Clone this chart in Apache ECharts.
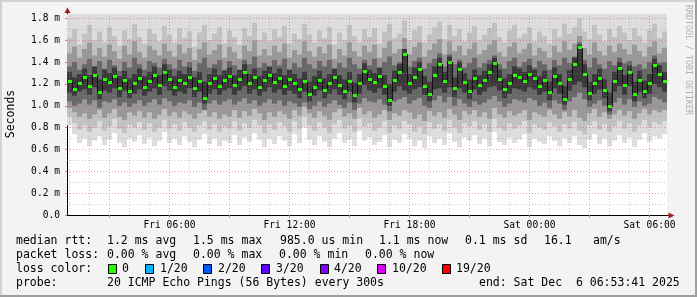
<!DOCTYPE html>
<html><head><meta charset="utf-8">
<script src="https://cdn.jsdelivr.net/npm/echarts@6/dist/echarts.min.js"></script>
<style>html,body{margin:0;padding:0;background:#f3f3f3}#c{width:697px;height:297px}</style>
</head><body><div id="c"></div>
<script>
// ---- time axis (hours since Fri 00:00) ----
const startHour = 0.875, endHour = 30.875, stepHours = 0.25;
const xTickHours = [6, 12, 18, 24, 30];
const xTickLabels = ['Fri 06:00', 'Fri 12:00', 'Fri 18:00', 'Sat 00:00', 'Sat 06:00'];

// ---- median RTT (ms), one value per 15 min ----
const median = [
1.22,1.15,1.20,1.26,1.18,1.28,1.12,1.24,1.21,1.27,1.16,1.23,1.13,1.20,1.25,1.17,1.22,1.28,1.19,1.30,
1.24,1.17,1.23,1.20,1.26,1.16,1.22,1.07,1.20,1.25,1.18,1.23,1.27,1.19,1.24,1.30,1.20,1.26,1.17,1.23,
1.28,1.21,1.25,1.18,1.24,1.20,1.15,1.22,1.10,1.17,1.23,1.14,1.20,1.26,1.19,1.13,1.22,1.09,1.20,1.31,
1.24,1.21,1.27,1.18,1.05,1.23,1.30,1.47,1.20,1.26,1.33,1.18,1.10,1.28,1.38,1.22,1.40,1.16,1.33,1.21,
1.13,1.25,1.19,1.23,1.30,1.39,1.24,1.15,1.20,1.28,1.26,1.22,1.29,1.25,1.18,1.23,1.12,1.27,1.20,1.06,
1.24,1.38,1.53,1.29,1.11,1.20,1.25,1.14,0.99,1.22,1.34,1.19,1.30,1.10,1.23,1.13,1.20,1.37,1.29,1.22];

// ---- smoke: ping spread envelopes (ms) ----
const minRtt = [
0.82,0.74,0.66,0.70,0.63,0.68,0.72,0.64,0.69,0.75,0.66,0.62,0.70,0.67,0.73,0.65,0.71,0.63,0.68,0.76,
0.66,0.70,0.64,0.72,0.67,0.62,0.69,0.74,0.65,0.70,0.63,0.68,0.66,0.73,0.64,0.71,0.67,0.75,0.69,0.62,
0.70,0.65,0.72,0.68,0.63,0.74,0.66,0.80,0.69,0.64,0.72,0.67,0.62,0.70,0.75,0.66,0.69,0.63,0.77,0.68,
0.71,0.64,0.67,0.73,0.62,0.69,0.66,0.74,0.70,0.63,0.68,0.61,0.72,0.66,0.70,0.64,0.75,0.67,0.62,0.71,
0.68,0.73,0.65,0.70,0.63,0.76,0.67,0.64,0.71,0.66,0.69,0.74,0.62,0.70,0.67,0.65,0.72,0.68,0.63,0.70,
0.66,0.72,0.64,0.61,0.69,0.74,0.65,0.70,0.63,0.68,0.73,0.66,0.71,0.62,0.69,0.75,0.67,0.72,0.70,0.74];
const maxRtt = [
1.95,2.10,1.90,2.05,2.20,1.92,1.98,2.15,1.88,2.02,1.94,2.08,1.91,2.25,1.97,1.89,2.04,2.12,1.93,2.00,
2.06,1.93,2.18,1.96,1.89,2.11,2.01,1.94,2.23,1.90,2.07,1.98,1.92,2.14,2.03,1.88,2.09,1.95,2.19,1.99,
1.91,2.05,1.97,2.16,1.90,2.08,1.94,2.21,2.00,1.93,2.12,1.96,1.89,2.04,2.17,1.92,2.06,1.98,1.90,2.13,
2.02,1.95,2.20,1.91,2.07,1.99,1.93,2.30,1.96,2.10,1.94,2.03,1.90,2.15,2.24,1.97,2.11,1.92,2.05,1.98,
2.09,1.93,2.01,2.16,1.95,2.22,1.99,1.91,2.06,2.13,1.94,2.02,1.97,2.18,1.90,2.08,1.96,2.04,1.92,2.14,
2.00,2.12,2.35,2.07,1.93,2.19,1.98,1.91,2.05,1.95,2.16,2.01,1.94,2.10,1.97,1.90,2.08,2.20,1.96,2.03];
const p10 = [
0.90,0.84,0.78,0.82,0.76,0.80,0.86,0.77,0.81,0.88,0.79,0.75,0.83,0.80,0.85,0.78,0.84,0.76,0.80,0.87,
0.79,0.83,0.77,0.85,0.80,0.76,0.82,0.86,0.78,0.83,0.76,0.81,0.79,0.86,0.77,0.84,0.80,0.87,0.82,0.75,
0.83,0.78,0.85,0.81,0.76,0.86,0.79,0.90,0.82,0.77,0.85,0.80,0.75,0.83,0.87,0.79,0.82,0.76,0.88,0.81,
0.84,0.77,0.80,0.86,0.75,0.82,0.79,0.86,0.83,0.76,0.81,0.74,0.85,0.79,0.83,0.77,0.87,0.80,0.75,0.84,
0.81,0.86,0.78,0.83,0.76,0.88,0.80,0.77,0.84,0.79,0.82,0.86,0.75,0.83,0.80,0.78,0.85,0.81,0.76,0.83,
0.79,0.85,0.77,0.74,0.82,0.86,0.78,0.83,0.76,0.81,0.86,0.79,0.84,0.76,0.82,0.87,0.80,0.85,0.83,0.86];
const p90 = [
1.62,1.70,1.56,1.66,1.74,1.60,1.68,1.58,1.72,1.64,1.55,1.69,1.61,1.75,1.63,1.57,1.70,1.66,1.59,1.73,
1.65,1.58,1.71,1.62,1.68,1.54,1.67,1.74,1.60,1.66,1.72,1.57,1.69,1.63,1.56,1.71,1.64,1.76,1.60,1.67,
1.59,1.70,1.63,1.73,1.57,1.66,1.61,1.75,1.65,1.58,1.69,1.62,1.72,1.56,1.67,1.60,1.74,1.64,1.58,1.70,
1.63,1.71,1.57,1.68,1.75,1.62,1.66,1.78,1.60,1.69,1.73,1.58,1.65,1.72,1.77,1.61,1.74,1.64,1.70,1.59,
1.67,1.73,1.60,1.65,1.71,1.76,1.63,1.58,1.69,1.74,1.62,1.66,1.72,1.59,1.68,1.64,1.57,1.70,1.63,1.75,
1.66,1.72,1.80,1.68,1.61,1.74,1.65,1.59,1.70,1.63,1.73,1.67,1.60,1.71,1.64,1.58,1.69,1.75,1.62,1.68];
const p25 = [
0.98,0.94,0.90,0.93,0.88,0.92,0.96,0.89,0.93,0.97,0.90,0.87,0.94,0.91,0.95,0.89,0.94,0.88,0.92,0.97,
0.91,0.94,0.89,0.95,0.92,0.88,0.93,0.96,0.90,0.94,0.88,0.92,0.90,0.96,0.89,0.95,0.91,0.97,0.93,0.87,
0.94,0.90,0.95,0.92,0.88,0.96,0.91,0.99,0.93,0.89,0.95,0.91,0.87,0.94,0.97,0.90,0.93,0.88,0.98,0.92,
0.95,0.89,0.92,0.96,0.87,0.93,0.91,0.96,0.94,0.88,0.92,0.86,0.95,0.91,0.94,0.89,0.97,0.92,0.87,0.95,
0.92,0.96,0.90,0.94,0.88,0.98,0.92,0.89,0.95,0.91,0.93,0.96,0.87,0.94,0.92,0.90,0.96,0.92,0.88,0.94,
0.90,0.96,0.89,0.86,0.93,0.97,0.90,0.94,0.88,0.92,0.96,0.91,0.95,0.88,0.93,0.97,0.92,0.96,0.94,0.96];
const p75 = [
1.48,1.54,1.44,1.52,1.58,1.46,1.53,1.45,1.56,1.50,1.43,1.55,1.47,1.59,1.49,1.44,1.55,1.51,1.46,1.57,
1.50,1.45,1.56,1.48,1.53,1.42,1.52,1.58,1.47,1.51,1.56,1.44,1.54,1.49,1.43,1.55,1.50,1.60,1.46,1.52,
1.46,1.55,1.49,1.57,1.44,1.51,1.47,1.59,1.50,1.45,1.54,1.48,1.56,1.43,1.52,1.46,1.58,1.50,1.45,1.55,
1.49,1.56,1.44,1.53,1.59,1.48,1.52,1.62,1.47,1.54,1.58,1.45,1.51,1.57,1.61,1.47,1.59,1.50,1.55,1.46,
1.52,1.58,1.47,1.51,1.56,1.60,1.49,1.45,1.54,1.58,1.48,1.52,1.57,1.46,1.53,1.50,1.44,1.55,1.49,1.59,
1.51,1.57,1.64,1.53,1.47,1.58,1.50,1.46,1.55,1.49,1.57,1.52,1.47,1.56,1.50,1.45,1.54,1.59,1.48,1.53];
const p35 = [
1.04,1.00,1.02,1.06,1.01,1.05,0.98,1.04,1.03,1.06,1.00,1.03,0.99,1.02,1.05,1.00,1.03,1.06,1.01,1.07,
1.04,1.00,1.03,1.02,1.05,0.99,1.03,0.96,1.02,1.05,1.01,1.04,1.06,1.01,1.04,1.07,1.02,1.05,1.00,1.03,
1.06,1.02,1.05,1.00,1.04,1.02,0.99,1.03,0.97,1.00,1.04,0.99,1.02,1.05,1.01,0.98,1.03,0.96,1.02,1.07,
1.04,1.03,1.06,1.01,0.95,1.04,1.06,1.08,1.02,1.05,1.07,1.00,0.98,1.05,1.09,1.03,1.08,1.00,1.06,1.02,
0.99,1.04,1.01,1.03,1.06,1.09,1.04,0.99,1.02,1.06,1.05,1.03,1.07,1.05,1.00,1.03,0.98,1.05,1.02,0.96,
1.04,1.08,1.12,1.06,0.99,1.02,1.05,1.00,0.92,1.03,1.07,1.01,1.06,0.99,1.04,1.00,1.02,1.08,1.06,1.03];
const p65 = [
1.36,1.40,1.33,1.38,1.43,1.35,1.41,1.34,1.42,1.37,1.32,1.40,1.35,1.44,1.38,1.33,1.41,1.39,1.35,1.43,
1.38,1.34,1.42,1.36,1.40,1.32,1.39,1.44,1.35,1.38,1.42,1.33,1.41,1.37,1.32,1.42,1.38,1.45,1.35,1.39,
1.35,1.42,1.37,1.43,1.33,1.39,1.35,1.44,1.38,1.34,1.41,1.36,1.42,1.32,1.39,1.35,1.44,1.38,1.34,1.42,
1.37,1.43,1.34,1.40,1.45,1.37,1.40,1.52,1.36,1.41,1.44,1.34,1.39,1.43,1.48,1.36,1.47,1.38,1.42,1.35,
1.39,1.44,1.35,1.39,1.42,1.46,1.38,1.34,1.41,1.44,1.36,1.40,1.43,1.35,1.41,1.38,1.33,1.42,1.37,1.44,
1.39,1.45,1.58,1.42,1.35,1.44,1.38,1.34,1.41,1.37,1.44,1.39,1.41,1.36,1.38,1.34,1.40,1.46,1.39,1.40];
const p45 = [
1.12,1.09,1.13,1.15,1.10,1.17,1.06,1.14,1.12,1.16,1.08,1.14,1.07,1.11,1.15,1.09,1.13,1.16,1.10,1.18,
1.14,1.09,1.13,1.11,1.16,1.08,1.13,1.02,1.11,1.15,1.10,1.14,1.16,1.10,1.14,1.18,1.11,1.15,1.09,1.13,
1.17,1.12,1.15,1.10,1.14,1.11,1.07,1.13,1.04,1.09,1.14,1.07,1.11,1.15,1.10,1.06,1.13,1.03,1.11,1.19,
1.14,1.12,1.16,1.10,1.00,1.13,1.18,1.14,1.11,1.15,1.17,1.10,1.04,1.15,1.16,1.12,1.17,1.08,1.16,1.12,
1.06,1.15,1.10,1.13,1.17,1.18,1.14,1.07,1.11,1.16,1.15,1.13,1.17,1.15,1.10,1.13,1.05,1.16,1.11,1.01,
1.14,1.19,1.22,1.17,1.05,1.11,1.15,1.07,0.95,1.13,1.18,1.10,1.18,1.04,1.13,1.07,1.11,1.20,1.17,1.13];
const p55 = [
1.31,1.26,1.29,1.34,1.28,1.36,1.24,1.33,1.30,1.35,1.27,1.32,1.25,1.29,1.34,1.27,1.31,1.36,1.28,1.38,
1.33,1.27,1.32,1.29,1.35,1.26,1.31,1.22,1.29,1.34,1.28,1.32,1.35,1.28,1.33,1.38,1.29,1.34,1.27,1.32,
1.36,1.30,1.34,1.28,1.33,1.29,1.25,1.31,1.22,1.27,1.32,1.25,1.29,1.34,1.28,1.24,1.31,1.21,1.29,1.39,
1.33,1.30,1.35,1.28,1.20,1.32,1.38,1.52,1.29,1.35,1.40,1.27,1.22,1.36,1.44,1.31,1.45,1.26,1.40,1.30,
1.24,1.33,1.28,1.32,1.38,1.44,1.33,1.25,1.29,1.36,1.34,1.31,1.37,1.33,1.27,1.32,1.22,1.35,1.29,1.18,
1.33,1.44,1.56,1.38,1.22,1.29,1.34,1.24,1.12,1.31,1.40,1.28,1.37,1.22,1.32,1.23,1.29,1.43,1.37,1.31];

// ---- legend texts ----
const rttLabels = ['median rtt:', '1.2 ms avg', '1.5 ms max', '985.0 us min', '1.1 ms now', '0.1 ms sd', '16.1', 'am/s'];
const lossLabels = ['packet loss:', '0.00 % avg', '0.00 % max', '0.00 % min', '0.00 % now'];
const lossColorNames = ['0', '1/20', '2/20', '3/20', '4/20', '10/20', '19/20'];
const lossColors = ['#26ff00', '#00b8ff', '#0059ff', '#5e00ff', '#7e00ff', '#dd00ff', '#ff0000'];
const probeLabels = ['probe:', '20 ICMP Echo Pings (56 Bytes) every 300s', 'end: Sat Dec  6 06:53:41 2025'];

// ---- layout (pixels) ----
const rttX = [16, 107, 193, 280, 379, 465, 544, 593];
const lossX = [16, 107, 193, 279, 365];
const boxX = [108, 145, 203, 261, 320, 377, 442];
const boxTextX = [122, 160, 218, 276, 334, 392, 456];
const probeX = [16, 107, 479];
const lineY = [241, 255, 269, 283.5];
const MONO = '"DejaVu Sans Mono", monospace';
const bandColors = ['#dddddd', '#c2c2c2', '#999999', '#686868', '#3a3a3a'];
const MAJOR = 'rgba(222,72,72,0.5)', MINOR = 'rgba(143,143,143,0.45)';
const Y_MAX = 1.84;

const chart = echarts.init(document.getElementById('c'), null, {renderer: 'canvas', width: 697, height: 297});

const smokeData = median.map((m, i) => [startHour + (i + 0.5) * stepHours,
  minRtt[i], maxRtt[i], p10[i], p90[i], p25[i], p75[i], p35[i], p65[i], p45[i], p55[i]]);
const medData = median.map((m, i) => [startHour + (i + 0.5) * stepHours, m, i > 0 ? median[i - 1] : m]);

function renderSmoke(params, api) {
  const t = api.value(0);
  const kids = [];
  for (let b = 0; b < 5; b++) {
    const lo = api.value(1 + 2 * b), hi = Math.min(api.value(2 + 2 * b), Y_MAX);
    const a = api.coord([t - stepHours / 2, hi]);
    const c = api.coord([t + stepHours / 2, lo]);
    kids.push({type: 'rect', shape: {x: a[0], y: a[1], width: c[0] - a[0], height: c[1] - a[1]},
      style: {fill: bandColors[b]}});
  }
  return {type: 'group', children: kids};
}
function renderMedian(params, api) {
  const t = api.value(0), m = api.value(1), mp = api.value(2);
  const p = api.coord([t, m]);
  const l = api.coord([t - stepHours / 2, mp]);
  const x0 = Math.round(l[0]) + 0.5;
  return {type: 'group', children: [
    {type: 'line', shape: {x1: x0, y1: Math.round(l[1]), x2: x0, y2: Math.round(p[1])}, style: {stroke: '#111', lineWidth: 1}},
    {type: 'rect', shape: {x: Math.round(p[0] - 2), y: Math.round(p[1] - 1.5), width: 4, height: 3}, style: {fill: lossColors[0]}}
  ]};
}

const gridLines = [];
for (let h = 1; h <= 30; h++) if (h % 3) gridLines.push({xAxis: h, lineStyle: {color: MINOR, type: [1, 2], width: 1}});
for (let k = 1; k <= 17; k += 2) gridLines.push({yAxis: k / 10, lineStyle: {color: MINOR, type: [1, 2], width: 1}});
for (let h = 3; h <= 30; h += 3) gridLines.push({xAxis: h, lineStyle: {color: MAJOR, type: [1, 2], width: 1}});
for (let k = 2; k <= 18; k += 2) gridLines.push({yAxis: k / 10, lineStyle: {color: MAJOR, type: [1, 2], width: 1}});

const txt = (text, x, y, size, fill) => ({type: 'text', x: x, y: y, silent: true,
  style: {text: text, font: size + 'px ' + MONO, fill: fill || '#000', textVerticalAlign: 'middle', verticalAlign: 'middle'}});
const graphics = [];
graphics.push({type: 'rect', shape: {x: 0, y: 0, width: 697, height: 2}, style: {fill: '#d2d2d2'}, silent: true});
graphics.push({type: 'rect', shape: {x: 0, y: 0, width: 2, height: 297}, style: {fill: '#d2d2d2'}, silent: true});
graphics.push({type: 'rect', shape: {x: 695, y: 0, width: 2, height: 297}, style: {fill: '#9e9e9e'}, silent: true});
graphics.push({type: 'rect', shape: {x: 0, y: 295, width: 697, height: 2}, style: {fill: '#9e9e9e'}, silent: true});
rttLabels.forEach((s, i) => graphics.push(txt(s, rttX[i], lineY[0], 11.5)));
lossLabels.forEach((s, i) => graphics.push(txt(s, lossX[i], lineY[1], 11.5)));
graphics.push(txt('loss color:', 16, lineY[2], 11.5));
lossColorNames.forEach((s, i) => {
  graphics.push({type: 'rect', shape: {x: boxX[i] + 0.5, y: lineY[2] - 4.5, width: 8, height: 9},
    style: {fill: lossColors[i], stroke: '#000', lineWidth: 1}, silent: true});
  graphics.push(txt(s, boxTextX[i], lineY[2], 11.5));
});
probeLabels.forEach((s, i) => graphics.push(txt(s, probeX[i], lineY[3], 11.5)));
graphics.push({type: 'text', x: 11, y: 114, rotation: Math.PI / 2, silent: true,
  style: {text: 'Seconds', font: '11.5px ' + MONO, fill: '#000', textAlign: 'center', align: 'center', textVerticalAlign: 'middle', verticalAlign: 'middle'}});
graphics.push({type: 'text', x: 688, y: 60, rotation: -Math.PI / 2, silent: true,
  style: {text: 'RRDTOOL / TOBI OETIKER', font: '8.3px ' + MONO, fill: '#b0b0b0', textAlign: 'center', align: 'center', textVerticalAlign: 'middle', verticalAlign: 'middle'}});
// axis arrows & extensions
graphics.push({type: 'line', shape: {x1: 67.5, y1: 14, x2: 67.5, y2: 11}, style: {stroke: '#000', lineWidth: 1}, silent: true});
graphics.push({type: 'polygon', shape: {points: [[67.5, 7.5], [64.5, 13], [70.5, 13]]}, style: {fill: '#9a2020'}, silent: true});
graphics.push({type: 'line', shape: {x1: 667, y1: 215.5, x2: 669, y2: 215.5}, style: {stroke: '#000', lineWidth: 1}, silent: true});
graphics.push({type: 'polygon', shape: {points: [[674.5, 215.5], [668.5, 212.5], [668.5, 218.5]]}, style: {fill: '#9a2020'}, silent: true});

chart.setOption({
  animation: false,
  backgroundColor: '#f3f3f3',
  grid: {left: 67, top: 14, width: 600, height: 201, show: true, backgroundColor: '#ffffff', borderWidth: 0},
  xAxis: {
    type: 'value', min: startHour, max: endHour,
    axisLine: {show: true, lineStyle: {color: '#000', width: 1}},
    axisTick: {show: true, customValues: [3, 6, 9, 12, 15, 18, 21, 24, 27, 30], length: 3, inside: false, lineStyle: {color: '#e08080'}},
    axisLabel: {customValues: xTickHours, formatter: v => xTickLabels[xTickHours.indexOf(Math.round(v))] || '',
      fontFamily: MONO, fontSize: 9.6, color: '#000', margin: 5},
    splitLine: {show: false}
  },
  yAxis: {
    type: 'value', min: 0, max: Y_MAX, interval: 0.2,
    axisLine: {show: true, lineStyle: {color: '#000', width: 1}},
    axisTick: {show: true, length: 2, lineStyle: {color: '#e08080'}},
    axisLabel: {showMaxLabel: false, formatter: v => v === 0 ? '0.0' : v.toFixed(1) + ' m',
      fontFamily: MONO, fontSize: 9.6, color: '#000', margin: 7},
    splitLine: {show: false}
  },
  series: [
    {type: 'custom', name: 'smoke', renderItem: renderSmoke, data: smokeData, clip: true, z: 2, silent: true,
      encode: {x: 0, y: [1, 2]}},
    {type: 'line', name: 'grid', data: [], z: 3, silent: true,
      markLine: {silent: true, symbol: ['none', 'none'], label: {show: false}, animation: false, data: gridLines}},
    {type: 'custom', name: 'median', renderItem: renderMedian, data: medData, clip: true, z: 4, silent: true,
      encode: {x: 0, y: 1}}
  ],
  graphic: graphics
});
</script></body></html>
